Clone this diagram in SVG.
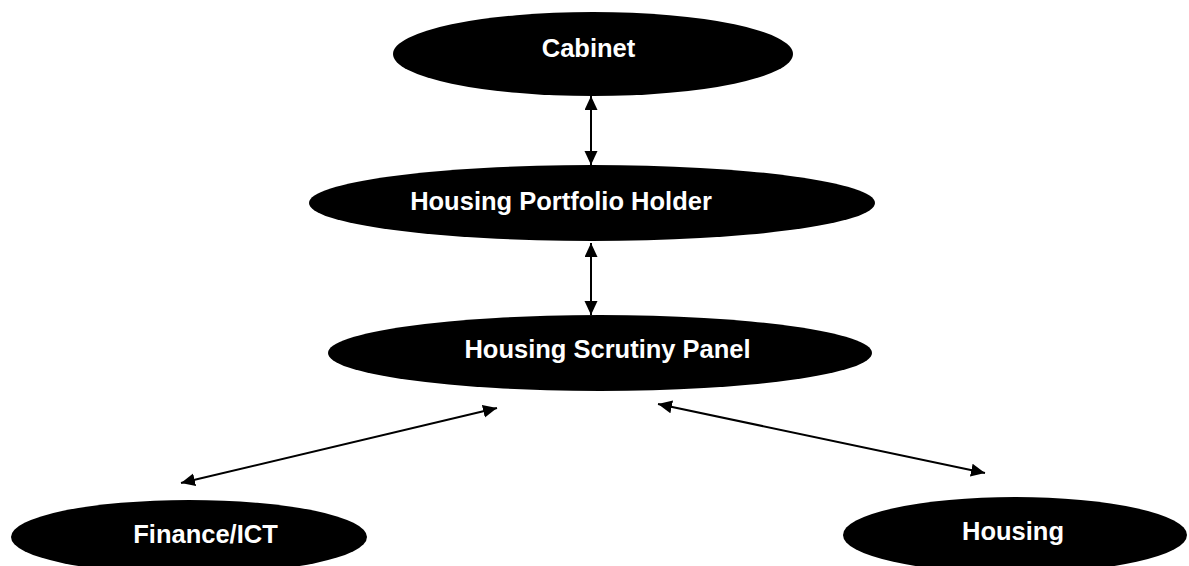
<svg xmlns="http://www.w3.org/2000/svg" width="1189" height="566" viewBox="0 0 1189 566">
<style>
.node{fill:#000;}
.lbl{font-family:"Liberation Sans",Arial,sans-serif;font-weight:bold;font-size:25.5px;fill:#fff;text-anchor:middle;}
.conn{stroke:#000;stroke-width:2;fill:none;marker-start:url(#ah);marker-end:url(#ah);}
</style>
<defs>
<marker id="ah" markerUnits="userSpaceOnUse" markerWidth="16" markerHeight="14" refX="14" refY="6.5" orient="auto-start-reverse">
<path d="M0,0 L14,6.5 L0,13 z" fill="#000"/>
</marker>
</defs>
<rect width="1189" height="566" fill="#fff"/>
<g id="cabinet">
<ellipse class="node" cx="593" cy="54" rx="200" ry="42"/>
<text class="lbl" x="588.5" y="57">Cabinet</text>
</g>
<g id="portfolio-holder">
<ellipse class="node" cx="592" cy="203" rx="283" ry="38"/>
<text class="lbl" x="561" y="210">Housing Portfolio Holder</text>
</g>
<g id="scrutiny-panel">
<ellipse class="node" cx="600" cy="353" rx="272" ry="38"/>
<text class="lbl" x="607.5" y="358">Housing Scrutiny Panel</text>
</g>
<g id="finance-ict">
<ellipse class="node" cx="189" cy="537" rx="178" ry="37"/>
<text class="lbl" x="205.5" y="543">Finance/ICT</text>
</g>
<g id="housing">
<ellipse class="node" cx="1015" cy="535" rx="172" ry="38"/>
<text class="lbl" x="1013" y="540">Housing</text>
</g>
<g id="connectors">
<line class="conn" x1="591" y1="96" x2="591" y2="165"/>
<line class="conn" x1="591" y1="243" x2="591" y2="315"/>
<line class="conn" x1="181" y1="483" x2="497" y2="408"/>
<line class="conn" x1="658" y1="404" x2="985" y2="473"/>
</g>
</svg>
